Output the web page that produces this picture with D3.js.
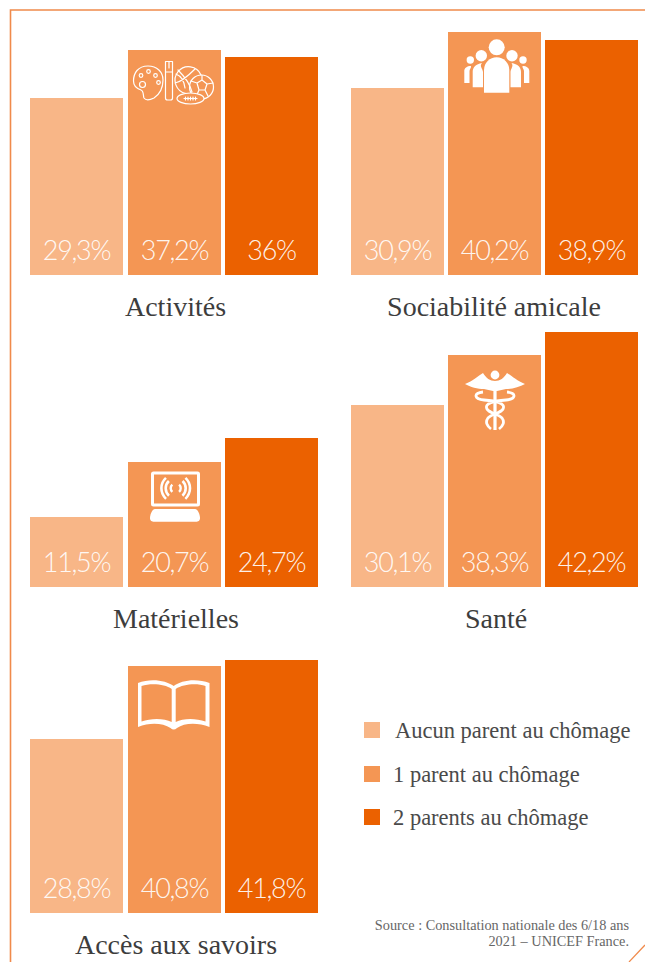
<!DOCTYPE html>
<html lang="fr"><head><meta charset="utf-8">
<script src="https://cdn.jsdelivr.net/npm/d3@7"></script>
<style>html,body{margin:0;padding:0;background:#fff}svg{display:block}</style>
</head><body><svg id="c" width="645" height="962"></svg>
<script>
const seriesNames = ["Aucun parent au chômage", "1 parent au chômage", "2 parents au chômage"];
const categories = ["Activités", "Sociabilité amicale", "Matérielles", "Santé", "Accès aux savoirs"];
const aucunParent = [29.3, 30.9, 11.5, 30.1, 28.8];
const unParent = [37.2, 40.2, 20.7, 38.3, 40.8];
const deuxParents = [36, 38.9, 24.7, 42.2, 41.8];
const sourceLines = ["Source : Consultation nationale des 6/18 ans", "2021 – UNICEF France."];

const colors = ["#f8b687", "#f49654", "#eb6100"];
const serif = "'Liberation Serif', serif";
const svg = d3.select("#c");

// frame
svg.append("path").attr("d", "M10.5,962V10H645").attr("fill", "none").attr("stroke", "#f08a4b").attr("stroke-width", 1.6);
svg.append("path").attr("d", "M629,962L645,945").attr("fill", "none").attr("stroke", "#f08a4b").attr("stroke-width", 1.2);

// layout of the panels
const panels = [
  {x: [30, 318], base: 275, cx: 175.5},
  {x: [351, 638], base: 275, cx: 494},
  {x: [30, 318], base: 587, cx: 176},
  {x: [351, 638], base: 587, cx: 496},
  {x: [30, 318], base: 913, cx: 176}
];
const fmt = v => String(v).replace(".", ",") + "%";
const h = d3.scaleLinear().domain([0, 10]).range([0, 60.5]);

categories.forEach((cat, i) => {
  const p = panels[i];
  const vals = [aucunParent[i], unParent[i], deuxParents[i]];
  const x = d3.scaleBand().domain(seriesNames).range(p.x).paddingInner(0.048);
  const g = svg.append("g");
  g.selectAll("rect").data(vals).join("rect")
    .attr("x", (d, j) => Math.round(x(seriesNames[j])))
    .attr("width", 93)
    .attr("y", d => p.base - Math.round(h(d)))
    .attr("height", d => Math.round(h(d)))
    .attr("fill", (d, j) => colors[j]);
  g.selectAll("text").data(vals).join("text")
    .attr("x", (d, j) => Math.round(x(seriesNames[j])) + 46.5)
    .attr("y", p.base - 15)
    .attr("text-anchor", "middle")
    .attr("font-family", "Lato")
    .attr("font-weight", 300)
    .attr("font-size", 27)
    .attr("letter-spacing", -1.3)
    .attr("fill", "#fff")
    .attr("fill-opacity", 0.92)
    .text(fmt);
  svg.append("text").attr("x", p.cx).attr("y", p.base + 41)
    .attr("text-anchor", "middle").attr("font-family", serif)
    .attr("font-size", 28).attr("fill", "#3d3d3d").text(cat);
});

// legend
const legendY = d3.scalePoint().domain(seriesNames).range([730, 817.4]);
const legendTextX = [395, 393, 393];
seriesNames.forEach((s, j) => {
  const cy = Math.round(legendY(s));
  svg.append("rect").attr("x", 364).attr("y", cy - 8).attr("width", 16).attr("height", 16).attr("fill", colors[j]);
  svg.append("text").attr("x", legendTextX[j]).attr("y", cy + 8)
    .attr("font-family", serif).attr("font-size", 22.5).attr("fill", "#4a4a4a").text(s);
});

// source
sourceLines.forEach((t, k) => {
  svg.append("text").attr("x", 629).attr("y", 930 + k * 16).attr("text-anchor", "end")
    .attr("font-family", serif).attr("font-size", 14.3).attr("fill", "#666").text(t);
});

// icons
const W = "#fff";
const ic = svg.append("g").attr("fill", "none").attr("stroke", W).attr("stroke-linecap", "round").attr("stroke-linejoin", "round");

// palette, brush, balls
const a = ic.append("g").attr("stroke-width", 1.2);
a.append("path").attr("d", "M148,66C138,66 133.5,73 133.5,81C133.5,87 138,89 141,90C144,91 143,96 144,98C146,101 150,100 154,98C160,94 163,87 163,80C163,72 157,66 148,66Z");
[[141,75.5,1.8],[148.5,71.5,1.8],[155.5,75.5,1.8],[158.5,82.5,1.8],[142.5,84.5,3]].forEach(c =>
  a.append("circle").attr("cx", c[0]).attr("cy", c[1]).attr("r", c[2]));
a.append("path").attr("d", "M165.5,61.5H172.5V98Q172.5,100 170.5,100H167.5Q165.5,100 165.5,98ZM165.5,72H172.5M169,62V68");
a.append("path").attr("d", "M201,75A13.5,13.5 0 1 0 186,93.5M178,70C184,76 190,84 192,92M195,69C190,74 182,82 175,83M176,74C181,76 184,80 185,88");
a.append("circle").attr("cx", 201.5).attr("cy", 87).attr("r", 12);
a.append("path").attr("d", "M197,83L202,80L207,84L205,90L199,90ZM197,83L191,81M202,80V75.5M207,84L213,83M205,90L208,96M199,90L196,97");
a.append("ellipse").attr("cx", 190.5).attr("cy", 98.5).attr("rx", 13.5).attr("ry", 5.5).attr("fill", "#f49654");
a.append("path").attr("d", "M184,98.5H197M185.5,97V100M188,97V100M190.5,97V100M193,97V100M195.5,97V100");

// people
const b = svg.append("g").attr("fill", W);
[[496.7,47.3,8],[481.3,55.7,5.7],[512,55.7,5.7],[470.3,60,3.7],[523,60,3.7]].forEach(c =>
  b.append("circle").attr("cx", c[0]).attr("cy", c[1]).attr("r", c[2]));
b.append("path").attr("d", "M484,92.7V70A12.6,12.6 0 0 1 509.3,70V92.7Z");
b.append("path").attr("d", "M472.7,87.3V72C472.7,67 476,64 482,63C479,66 483,69 483,72V87.3Z");
b.append("path").attr("d", "M521,87.3V72C521,67 517.7,64 511.5,63C514,66 510.5,69 510.5,72V87.3Z");
b.append("path").attr("d", "M464.3,83V71C464.3,68 467,66 471,66C471.5,68 469.5,69 469.5,71V83Z");
b.append("path").attr("d", "M529.3,83V71C529.3,68 526.5,66 522.5,66C522,68 524,69 524,71V83Z");

// caduceus
const d = svg.append("g");
d.append("circle").attr("cx", 495).attr("cy", 375).attr("r", 4.4).attr("fill", W);
d.append("path").attr("fill", W).attr("d", "M465,384C473,381 478,376 483,373C486,378 490,381 495,381C500,381 504,378 507,373C512,376 517,381 525,384C520,387 512,389 506,389L497,391H493L484,389C478,389 470,387 465,384Z");
d.append("rect").attr("x", 493.4).attr("y", 389).attr("width", 3.2).attr("height", 41).attr("fill", W);
d.append("path").attr("fill", "none").attr("stroke", W).attr("stroke-width", 2.8)
  .attr("d", "M483,392C473,393 474,399 484,400C496,401 506,403 503,409C501,413 492,414 488,418C485,422 487,426 491,429M507,392C517,393 516,399 506,400C494,401 484,403 487,409C489,413 498,414 502,418C505,422 503,426 499,429");

// monitor
const m = svg.append("g");
m.append("rect").attr("x", 152.5).attr("y", 473).attr("width", 46).attr("height", 32).attr("rx", 1).attr("fill", "none").attr("stroke", W).attr("stroke-width", 3);
m.append("path").attr("fill", W).attr("d", "M155,509H195C198,509 200,515 200,518C200,521 198,521.7 196,521.7H154C152,521.7 150,521 150,518C150,515 152,509 155,509Z");
const wave = d3.arc();
[[5, 2.4],[10, 2.6],[14.3, 2.6]].forEach(([r, w]) => {
  [[-2.4, -0.75],[0.75, 2.4]].forEach(([s, e]) => {
    m.append("path").attr("transform", "translate(175.7,488.3)").attr("fill", W)
      .attr("d", wave({innerRadius: r - w / 2, outerRadius: r + w / 2, startAngle: s, endAngle: e}));
  });
});

// book
svg.append("path").attr("fill", W).attr("stroke", "none")
  .attr("d", "M138,683C150,678 166,680 173.7,686C181,680 197,678 209.5,683V727C197,722 184,723 177,728Q173.7,731 170.5,728C163,723 150,722 138,727Z");
svg.append("path").attr("fill", "#f49654")
  .attr("d", "M141.5,686C151,683 165,684 171.7,689V722C164,718 151,718 141.5,721.5ZM205.5,686C197,683 183,684 175.7,689V722C183,718 196,718 205.5,721.5Z");
</script></body></html>
